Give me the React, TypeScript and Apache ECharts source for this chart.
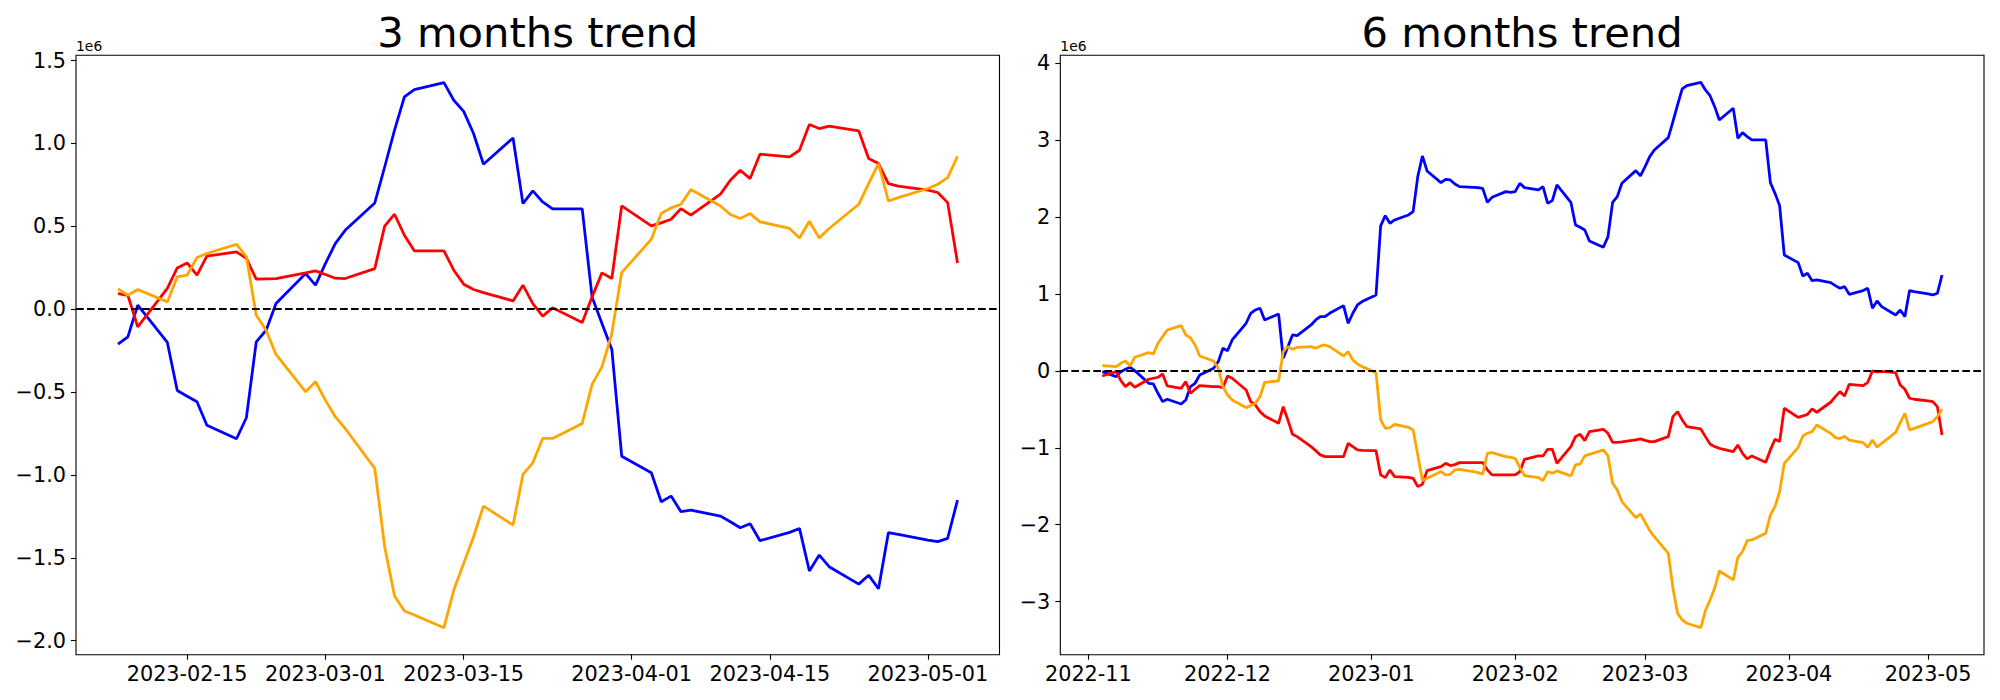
import React, { useEffect, useRef } from "react";
import * as echarts from "echarts";

// ---------- 3 months panel ----------
const dates3m = [
  "2023-02-08","2023-02-09","2023-02-10","2023-02-13","2023-02-14","2023-02-15","2023-02-16","2023-02-17","2023-02-20","2023-02-21","2023-02-22","2023-02-23","2023-02-24","2023-02-27","2023-02-28",
  "2023-03-01","2023-03-02","2023-03-03","2023-03-06","2023-03-07","2023-03-08","2023-03-09","2023-03-10","2023-03-13","2023-03-14","2023-03-15","2023-03-16","2023-03-17","2023-03-20","2023-03-21","2023-03-22","2023-03-23","2023-03-24","2023-03-27","2023-03-28","2023-03-29","2023-03-30","2023-03-31",
  "2023-04-03","2023-04-04","2023-04-05","2023-04-06","2023-04-07","2023-04-10","2023-04-11","2023-04-12","2023-04-13","2023-04-14","2023-04-17","2023-04-18","2023-04-19","2023-04-20","2023-04-21","2023-04-24","2023-04-25","2023-04-26","2023-04-27","2023-04-28",
  "2023-05-01","2023-05-02","2023-05-03","2023-05-04",
];
const blue3m = [
  -0.211,-0.167,0.024,-0.201,-0.491,-0.525,-0.559,-0.700,-0.782,-0.655,-0.197,-0.127,0.034,0.215,0.145,
  0.275,0.396,0.476,0.641,0.858,1.080,1.281,1.325,1.367,1.261,1.194,1.060,0.875,1.033,0.637,0.714,0.647,0.605,0.605,0.074,-0.086,-0.243,-0.887,
  -0.987,-1.162,-1.128,-1.222,-1.212,-1.249,-1.283,-1.319,-1.295,-1.397,-1.347,-1.323,-1.580,-1.484,-1.554,-1.659,-1.605,-1.687,-1.349,-1.359,
  -1.393,-1.403,-1.383,-1.152,
];
const red3m = [
  0.094,0.084,-0.107,0.125,0.249,0.279,0.205,0.320,0.346,0.306,0.181,0.183,0.185,0.219,0.231,
  0.209,0.187,0.185,0.245,0.501,0.573,0.446,0.352,0.352,0.235,0.151,0.119,0.100,0.050,0.145,0.034,-0.042,0.008,-0.080,0.074,0.219,0.185,0.623,
  0.503,0.521,0.543,0.607,0.567,0.694,0.778,0.838,0.788,0.935,0.919,0.959,1.114,1.090,1.104,1.076,0.909,0.879,0.758,0.742,
  0.718,0.704,0.643,0.279,
];
const orange3m = [
  0.123,0.084,0.119,0.044,0.195,0.205,0.312,0.336,0.392,0.316,-0.036,-0.127,-0.273,-0.499,-0.438,
  -0.549,-0.649,-0.720,-0.961,-1.433,-1.731,-1.821,-1.845,-1.922,-1.695,-1.534,-1.373,-1.188,-1.303,-0.997,-0.927,-0.780,-0.780,-0.690,-0.454,-0.348,-0.147,0.221,
  0.422,0.577,0.611,0.633,0.722,0.623,0.571,0.547,0.577,0.527,0.487,0.430,0.531,0.430,0.487,0.633,0.758,0.879,0.653,0.673,
  0.728,0.754,0.794,0.923,
];
const xTicks3m = ["2023-02-15","2023-03-01","2023-03-15","2023-04-01","2023-04-15","2023-05-01"];
const yTicks3m = [-2.0,-1.5,-1.0,-0.5,0.0,0.5,1.0,1.5];

// ---------- 6 months panel ----------
const dates6m = [
  "2022-11-04","2022-11-07","2022-11-08","2022-11-09","2022-11-10","2022-11-11","2022-11-14","2022-11-15","2022-11-16","2022-11-17","2022-11-18","2022-11-21","2022-11-22","2022-11-23","2022-11-24","2022-11-25","2022-11-28","2022-11-29","2022-11-30",
  "2022-12-01","2022-12-02","2022-12-05","2022-12-06","2022-12-07","2022-12-08","2022-12-09","2022-12-12","2022-12-13","2022-12-14","2022-12-15","2022-12-16","2022-12-19","2022-12-20","2022-12-21","2022-12-22","2022-12-23","2022-12-26","2022-12-27","2022-12-28","2022-12-29","2022-12-30",
  "2023-01-02","2023-01-03","2023-01-04","2023-01-05","2023-01-06","2023-01-09","2023-01-10","2023-01-11","2023-01-12","2023-01-13","2023-01-16","2023-01-17","2023-01-18","2023-01-19","2023-01-20","2023-01-23","2023-01-24","2023-01-25","2023-01-26","2023-01-27","2023-01-30","2023-01-31",
  "2023-02-01","2023-02-02","2023-02-03","2023-02-06","2023-02-07","2023-02-08","2023-02-09","2023-02-10","2023-02-13","2023-02-14","2023-02-15","2023-02-16","2023-02-17","2023-02-20","2023-02-21","2023-02-22","2023-02-23","2023-02-24","2023-02-27","2023-02-28",
  "2023-03-01","2023-03-02","2023-03-03","2023-03-06","2023-03-07","2023-03-08","2023-03-09","2023-03-10","2023-03-13","2023-03-14","2023-03-15","2023-03-16","2023-03-17","2023-03-20","2023-03-21","2023-03-22","2023-03-23","2023-03-24","2023-03-27","2023-03-28","2023-03-29","2023-03-30","2023-03-31",
  "2023-04-03","2023-04-04","2023-04-05","2023-04-06","2023-04-07","2023-04-10","2023-04-11","2023-04-12","2023-04-13","2023-04-14","2023-04-17","2023-04-18","2023-04-19","2023-04-20","2023-04-21","2023-04-24","2023-04-25","2023-04-26","2023-04-27","2023-04-28",
  "2023-05-01","2023-05-02","2023-05-03","2023-05-04",
];
const blue6m = [
  -0.009,-0.074,-0.009,0.022,0.048,0.004,-0.160,-0.169,-0.290,-0.399,-0.368,-0.429,-0.377,-0.204,-0.160,-0.052,0.035,0.121,0.295,
  0.264,0.403,0.620,0.750,0.793,0.815,0.663,0.741,0.165,0.316,0.468,0.459,0.598,0.663,0.707,0.707,0.750,0.850,0.620,0.750,0.858,0.902,
  0.988,1.886,2.020,1.920,1.964,2.029,2.072,2.527,2.796,2.601,2.449,2.492,2.484,2.432,2.397,2.388,2.384,2.375,2.193,2.258,2.332,2.323,
  2.332,2.440,2.384,2.354,2.397,2.180,2.215,2.419,2.193,1.899,1.868,1.834,1.691,1.608,1.747,2.193,2.267,2.440,2.605,2.536,
  2.657,2.787,2.874,3.034,3.242,3.459,3.667,3.711,3.754,3.654,3.580,3.437,3.264,3.416,3.026,3.099,3.047,3.004,3.004,2.449,2.310,2.150,1.508,
  1.409,1.235,1.270,1.174,1.183,1.149,1.110,1.075,1.097,0.997,1.045,1.075,0.815,0.910,0.837,0.728,0.793,0.707,1.045,1.032,
  1.001,0.988,1.010,1.248,
];
const red6m = [
  -0.065,-0.009,-0.126,-0.204,-0.152,-0.212,-0.108,-0.095,-0.082,-0.039,-0.195,-0.225,-0.139,-0.290,-0.238,-0.191,-0.204,-0.204,-0.217,
  -0.065,-0.095,-0.247,-0.399,-0.442,-0.529,-0.585,-0.681,-0.464,-0.637,-0.824,-0.854,-0.984,-1.036,-1.092,-1.114,-1.114,-1.114,-0.941,-0.984,-1.027,-1.032,
  -1.036,-1.352,-1.387,-1.287,-1.374,-1.383,-1.396,-1.504,-1.474,-1.296,-1.244,-1.201,-1.231,-1.218,-1.192,-1.192,-1.192,-1.192,-1.287,-1.352,-1.352,-1.352,
  -1.352,-1.309,-1.149,-1.105,-1.105,-1.019,-1.019,-1.201,-0.984,-0.854,-0.824,-0.906,-0.789,-0.759,-0.811,-0.928,-0.928,-0.923,-0.897,-0.884,
  -0.902,-0.919,-0.919,-0.854,-0.594,-0.529,-0.637,-0.724,-0.754,-0.854,-0.949,-0.984,-1.006,-1.049,-0.962,-1.071,-1.144,-1.105,-1.188,-1.027,-0.889,-0.919,-0.485,
  -0.603,-0.585,-0.564,-0.494,-0.537,-0.407,-0.334,-0.269,-0.325,-0.173,-0.191,-0.147,0.000,-0.013,-0.004,-0.022,-0.182,-0.238,-0.355,-0.368,
  -0.390,-0.399,-0.464,-0.832,
];
const orange6m = [
  0.069,0.056,0.100,0.130,0.065,0.178,0.238,0.221,0.360,0.446,0.533,0.590,0.468,0.433,0.338,0.195,0.130,0.035,-0.204,
  -0.312,-0.377,-0.477,-0.451,-0.420,-0.334,-0.147,-0.130,0.251,0.316,0.282,0.308,0.316,0.295,0.325,0.338,0.316,0.195,0.251,0.143,0.091,0.056,
  -0.022,-0.637,-0.746,-0.737,-0.694,-0.733,-0.767,-1.092,-1.426,-1.396,-1.309,-1.352,-1.344,-1.287,-1.279,-1.309,-1.322,-1.344,-1.071,-1.062,-1.114,-1.123,
  -1.136,-1.257,-1.361,-1.387,-1.426,-1.309,-1.331,-1.300,-1.365,-1.222,-1.209,-1.105,-1.084,-1.027,-1.105,-1.461,-1.547,-1.699,-1.907,-1.860,
  -1.968,-2.076,-2.154,-2.371,-2.826,-3.151,-3.238,-3.281,-3.338,-3.116,-2.978,-2.826,-2.601,-2.718,-2.423,-2.349,-2.206,-2.197,-2.111,-1.873,-1.764,-1.569,-1.201,
  -0.993,-0.845,-0.811,-0.789,-0.702,-0.811,-0.867,-0.879,-0.849,-0.899,-0.932,-0.993,-0.897,-0.993,-0.941,-0.798,-0.672,-0.550,-0.767,-0.746,
  -0.681,-0.659,-0.594,-0.498,
];
const xTicks6m = ["2022-11-01","2022-12-01","2023-01-01","2023-02-01","2023-03-01","2023-04-01","2023-05-01"];
const yTicks6m = [-3,-2,-1,0,1,2,3,4];

const COLORS = { blue: "#0000ff", red: "#ff0000", orange: "#ffa500" };
const FONT = "DejaVu Sans";

function ts(s: string): number {
  const [y, m, d] = s.split("-").map(Number);
  return Date.UTC(y, m - 1, d);
}
function pad2(n: number) { return n < 10 ? "0" + n : "" + n; }
function fmtDay(v: number) {
  const d = new Date(v);
  return d.getUTCFullYear() + "-" + pad2(d.getUTCMonth() + 1) + "-" + pad2(d.getUTCDate());
}
function fmtMonth(v: number) {
  const d = new Date(v);
  return d.getUTCFullYear() + "-" + pad2(d.getUTCMonth() + 1);
}
function minus(s: string) { return s.replace("-", "\u2212"); }

// matplotlib-like 5% margins on x
function xExtent(dates: string[]) {
  const a = ts(dates[0]);
  const b = ts(dates[dates.length - 1]);
  const m = (b - a) * 0.05;
  return [a - m, b + m];
}

const GRIDS = [
  { left: 76, top: 55.3, width: 923.5, height: 599.4 },
  { left: 1060.3, top: 55.3, width: 923.7, height: 599.4 },
];

export default function App() {
  const ref = useRef<HTMLDivElement>(null);
  useEffect(() => {
    if (!ref.current) return;
    const chart = echarts.init(ref.current, undefined, { renderer: "svg" });
    const ex3 = xExtent(dates3m);
    const ex6 = xExtent(dates6m);
    const tickStyle = { show: true, inside: false, length: 5, lineStyle: { color: "#000", width: 1.1 } };
    const labelStyle = { color: "#000", fontSize: 20.8, fontFamily: FONT };
    const noLine = { show: false, onZero: false };

    const mkSeries = (dates: string[], vals: number[], color: string, idx: number, withZero: boolean) => {
      const s: any = {
        type: "line",
        xAxisIndex: idx,
        yAxisIndex: idx,
        data: dates.map((d, i) => [ts(d), vals[i]]),
        showSymbol: false,
        symbol: "none",
        lineStyle: { color, width: 2.78 },
        itemStyle: { color },
        silent: true,
      };
      if (withZero) {
        s.markLine = {
          silent: true,
          symbol: ["none", "none"],
          label: { show: false },
          lineStyle: { color: "#000", type: [7.7, 3.3], width: 2.08 },
          data: [{ yAxis: 0 }],
        };
      }
      return s;
    };

    const option: any = {
      animation: false,
      backgroundColor: "#fff",
      grid: GRIDS.map((g) => ({ ...g, show: true, borderColor: "#000", borderWidth: 1.1, backgroundColor: "transparent", containLabel: false })),
      xAxis: [
        {
          type: "value", gridIndex: 0, min: ex3[0], max: ex3[1], scale: true, position: "bottom",
          axisLine: noLine,
          axisTick: { ...tickStyle, customValues: xTicks3m.map(ts) },
          axisLabel: { ...labelStyle, margin: 9, customValues: xTicks3m.map(ts), formatter: (v: number) => fmtDay(v), hideOverlap: false, showMinLabel: true, showMaxLabel: true },
          splitLine: { show: false },
        },
        {
          type: "value", gridIndex: 1, min: ex6[0], max: ex6[1], scale: true, position: "bottom",
          axisLine: noLine,
          axisTick: { ...tickStyle, customValues: xTicks6m.map(ts) },
          axisLabel: { ...labelStyle, margin: 9, customValues: xTicks6m.map(ts), formatter: (v: number) => fmtMonth(v), hideOverlap: false, showMinLabel: true, showMaxLabel: true },
          splitLine: { show: false },
        },
      ],
      yAxis: [
        {
          type: "value", gridIndex: 0, min: -2.085, max: 1.532, position: "left",
          axisLine: noLine,
          axisTick: { ...tickStyle, customValues: yTicks3m },
          axisLabel: { ...labelStyle, margin: 10, customValues: yTicks3m, formatter: (v: number) => minus(v.toFixed(1)) },
          splitLine: { show: false },
        },
        {
          type: "value", gridIndex: 1, min: -3.69, max: 4.105, position: "left",
          axisLine: noLine,
          axisTick: { ...tickStyle, customValues: yTicks6m },
          axisLabel: { ...labelStyle, margin: 10, customValues: yTicks6m, formatter: (v: number) => minus(v.toFixed(0)) },
          splitLine: { show: false },
        },
      ],
      series: [
        mkSeries(dates3m, blue3m, COLORS.blue, 0, false),
        mkSeries(dates3m, red3m, COLORS.red, 0, false),
        mkSeries(dates3m, orange3m, COLORS.orange, 0, true),
        mkSeries(dates6m, blue6m, COLORS.blue, 1, false),
        mkSeries(dates6m, red6m, COLORS.red, 1, false),
        mkSeries(dates6m, orange6m, COLORS.orange, 1, true),
      ],
      graphic: [
        { type: "text", x: GRIDS[0].left + GRIDS[0].width / 2, y: 32.6, silent: true,
          style: { text: "3 months trend", fontSize: 41.7, fontFamily: FONT, fill: "#000", align: "center", verticalAlign: "middle" } },
        { type: "text", x: GRIDS[1].left + GRIDS[1].width / 2, y: 32.6, silent: true,
          style: { text: "6 months trend", fontSize: 41.7, fontFamily: FONT, fill: "#000", align: "center", verticalAlign: "middle" } },
        { type: "text", x: GRIDS[0].left, y: 46.2, silent: true,
          style: { text: "1e6", fontSize: 13.9, fontFamily: FONT, fill: "#000", align: "left", verticalAlign: "middle" } },
        { type: "text", x: GRIDS[1].left, y: 46.2, silent: true,
          style: { text: "1e6", fontSize: 13.9, fontFamily: FONT, fill: "#000", align: "left", verticalAlign: "middle" } },
      ],
    };
    chart.setOption(option);
    return () => chart.dispose();
  }, []);
  return <div ref={ref} style={{ position: "absolute", left: 0, top: 0, width: 2000, height: 700 }} />;
}
